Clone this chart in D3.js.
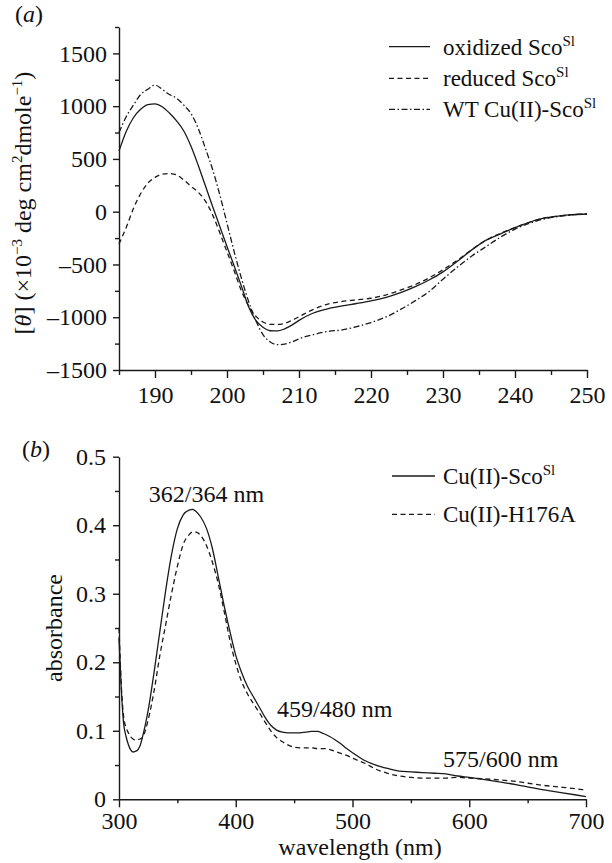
<!DOCTYPE html>
<html><head><meta charset="utf-8">
<script src="https://cdn.jsdelivr.net/npm/d3@7"></script>
<style>
html,body{margin:0;padding:0;background:#fff;}
svg text{font-family:"Liberation Serif","Times New Roman",serif;fill:#111;}
</style></head>
<body>
<svg id="c" width="612" height="863"></svg>
<script>
// ---------- Panel (a): CD spectra ----------
const wlA = [185,186,187,188,189,190,191,192,193,194,195,196,197,198,199,200,201,202,203,204,205,206,207,208,209,210,212,214,216,218,220,222,224,226,228,230,232,234,236,238,240,242,244,246,248,250];
const oxidized = [575,760,890,970,1015,1022,995,935,860,765,620,440,245,50,-140,-330,-515,-705,-900,-1030,-1095,-1128,-1130,-1110,-1075,-1030,-960,-920,-893,-870,-845,-815,-770,-715,-650,-570,-470,-362,-270,-210,-150,-100,-62,-42,-28,-22];
const reduced = [-305,-150,30,170,270,325,355,362,348,300,240,185,100,-30,-200,-380,-560,-750,-890,-990,-1045,-1068,-1068,-1058,-1030,-995,-925,-875,-850,-835,-820,-790,-745,-695,-630,-550,-460,-360,-270,-205,-150,-100,-62,-42,-28,-22];
const wtCu = [750,900,1010,1110,1160,1200,1160,1110,1075,1010,930,790,600,400,160,-110,-380,-630,-850,-1030,-1165,-1235,-1260,-1255,-1235,-1205,-1165,-1135,-1120,-1090,-1050,-1000,-930,-850,-760,-640,-525,-420,-330,-240,-165,-110,-70,-45,-30,-22];
const xTicksA = [190,200,210,220,230,240,250];
const xMinorA = [185,195,205,215,225,235,245];
const yTicksA = [-1500,-1000,-500,0,500,1000,1500];
const yMinorA = [-1250,-750,-250,250,750,1250,1750];

// ---------- Panel (b): absorbance ----------
const wlB = [300,302,304,306,308,310,312,314,316,318,320,325,330,335,340,345,350,355,360,363,366,370,375,380,385,390,395,400,405,410,415,420,425,430,435,440,445,450,455,460,465,470,475,480,485,490,495,500,510,520,530,540,550,560,570,580,590,600,620,640,660,680,700];
const cuSco = [0.235,0.16,0.11,0.092,0.08,0.072,0.069,0.07,0.072,0.078,0.09,0.13,0.185,0.245,0.305,0.357,0.395,0.415,0.422,0.423,0.42,0.412,0.395,0.366,0.325,0.283,0.245,0.21,0.185,0.165,0.15,0.135,0.12,0.108,0.101,0.098,0.097,0.097,0.097,0.098,0.099,0.099,0.096,0.092,0.087,0.081,0.074,0.068,0.057,0.05,0.045,0.041,0.04,0.039,0.038,0.037,0.034,0.032,0.027,0.0215,0.015,0.0095,0.004];
const cuH176A = [0.25,0.165,0.12,0.105,0.097,0.091,0.088,0.0865,0.087,0.088,0.09,0.116,0.158,0.21,0.255,0.3,0.34,0.372,0.386,0.39,0.39,0.385,0.37,0.346,0.315,0.275,0.232,0.198,0.172,0.154,0.14,0.127,0.113,0.1,0.09,0.084,0.079,0.076,0.075,0.075,0.075,0.074,0.074,0.073,0.07,0.067,0.064,0.06,0.053,0.044,0.038,0.034,0.032,0.031,0.031,0.031,0.032,0.031,0.029,0.026,0.021,0.0175,0.0136];
const xTicksB = [300,400,500,600,700];
const xMinorB = [350,450,550,650];
const yTicksB = [0,0.1,0.2,0.3,0.4,0.5];
const yMinorB = [0.05,0.15,0.25,0.35,0.45];
const peakLabels = ["362/364 nm","459/480 nm","575/600 nm"];

const svg = d3.select("#c");
const INK = "#1a1a1a";
const FS = 24;
const FONT = "'Liberation Serif','Times New Roman',serif";

function styleAxis(g){
  g.attr("font-family",null).attr("font-size",null);
  g.selectAll("path,line").attr("stroke",INK).attr("stroke-width",1.4);
  g.selectAll("text").attr("fill","#111").style("font-size",FS+"px").style("font-family",FONT);
}

// ===== Panel a =====
const xA = d3.scaleLinear().domain([185,250]).range([119,587]);
const yA = d3.scaleLinear().domain([-1500,1750]).range([370,27]);
const fmtA = d => d < 0 ? "\u2013" + Math.abs(d) : String(d);

svg.append("g").attr("transform","translate(0,370)")
  .call(d3.axisBottom(xA).tickValues(xMinorA).tickSize(5).tickSizeOuter(0).tickFormat(""))
  .call(g=>g.select(".domain").remove()).call(styleAxis);
svg.append("g").attr("transform","translate(0,370)")
  .call(d3.axisBottom(xA).tickValues(xTicksA).tickSize(8).tickPadding(8).tickSizeOuter(0).tickFormat(d3.format("d")))
  .call(styleAxis);
svg.append("g").attr("transform","translate(119,0)")
  .call(d3.axisLeft(yA).tickValues(yMinorA).tickSize(4).tickSizeOuter(0).tickFormat(""))
  .call(g=>g.select(".domain").remove()).call(styleAxis);
svg.append("g").attr("transform","translate(119,0)")
  .call(d3.axisLeft(yA).tickValues(yTicksA).tickSize(6).tickPadding(6).tickSizeOuter(0).tickFormat(fmtA))
  .call(styleAxis);

const lineA = ys => d3.line().x((d,i)=>xA(wlA[i])).y(d=>yA(d)).curve(d3.curveMonotoneX)(ys);
const seriesA = [
  {v:oxidized, dash:null, name:"oxidized Sco"},
  {v:reduced, dash:"5,3.5", name:"reduced Sco"},
  {v:wtCu, dash:"6,2.5,1.5,2.5", name:"WT Cu(II)-Sco"}
];
seriesA.forEach(s=>{
  svg.append("path").attr("d",lineA(s.v)).attr("fill","none").attr("stroke",INK)
    .attr("stroke-width",1.3).attr("stroke-dasharray",s.dash);
});
// legend a
const legA = [46.7,78.3,109.3];
seriesA.forEach((s,i)=>{
  svg.append("line").attr("x1",389).attr("x2",430).attr("y1",legA[i]).attr("y2",legA[i])
    .attr("stroke",INK).attr("stroke-width",1.3).attr("stroke-dasharray",s.dash);
  const t = svg.append("text").attr("x",443).attr("y",legA[i]+8).style("font-size","23px").style("font-family",FONT);
  t.append("tspan").text(s.name);
  t.append("tspan").attr("dy",-9).style("font-size","15px").text("Sl");
});
// y label a
{
  const t = svg.append("text").attr("transform","translate(31,203) rotate(-90)")
    .attr("text-anchor","middle").style("font-size",FS+"px").style("font-family",FONT);
  t.append("tspan").text("[");
  t.append("tspan").style("font-style","italic").text("\u03B8");
  t.append("tspan").text("] (\u00D710");
  t.append("tspan").attr("dy",-9).style("font-size","15px").text("\u22123");
  t.append("tspan").attr("dy",9).text(" deg cm");
  t.append("tspan").attr("dy",-9).style("font-size","15px").text("2");
  t.append("tspan").attr("dy",9).text("dmole");
  t.append("tspan").attr("dy",-9).style("font-size","15px").text("\u22121");
  t.append("tspan").attr("dy",9).text(")");
}
{
  const t = svg.append("text").attr("x",15).attr("y",22).style("font-size",FS+"px").style("font-family",FONT);
  t.append("tspan").text("(");
  t.append("tspan").style("font-style","italic").text("a");
  t.append("tspan").text(")");
}

// ===== Panel b =====
const xB = d3.scaleLinear().domain([300,700]).range([119,586]);
const yB = d3.scaleLinear().domain([0,0.5]).range([799.3,456.7]);
const fmtB = d => d === 0 ? "0" : d.toFixed(1);

svg.append("g").attr("transform","translate(0,799.3)")
  .call(d3.axisBottom(xB).tickValues(xMinorB).tickSize(4).tickSizeOuter(0).tickFormat(""))
  .call(g=>g.select(".domain").remove()).call(styleAxis);
svg.append("g").attr("transform","translate(0,799.3)")
  .call(d3.axisBottom(xB).tickValues(xTicksB).tickSize(8).tickPadding(5).tickSizeOuter(0).tickFormat(d3.format("d")))
  .call(styleAxis);
svg.append("g").attr("transform","translate(119,0)")
  .call(d3.axisLeft(yB).tickValues(yMinorB).tickSize(4).tickSizeOuter(0).tickFormat(""))
  .call(g=>g.select(".domain").remove()).call(styleAxis);
svg.append("g").attr("transform","translate(119,0)")
  .call(d3.axisLeft(yB).tickValues(yTicksB).tickSize(6).tickPadding(7).tickSizeOuter(0).tickFormat(fmtB))
  .call(styleAxis);

const lineB = ys => d3.line().x((d,i)=>xB(wlB[i])).y(d=>yB(d)).curve(d3.curveMonotoneX)(ys);
const seriesB = [
  {v:cuSco, dash:null, name:"Cu(II)-Sco", sup:"Sl"},
  {v:cuH176A, dash:"5,3.5", name:"Cu(II)-H176A", sup:null}
];
seriesB.forEach(s=>{
  svg.append("path").attr("d",lineB(s.v)).attr("fill","none").attr("stroke",INK)
    .attr("stroke-width",1.3).attr("stroke-dasharray",s.dash);
});
const legB = [476,514.3];
seriesB.forEach((s,i)=>{
  svg.append("line").attr("x1",392).attr("x2",435).attr("y1",legB[i]).attr("y2",legB[i])
    .attr("stroke",INK).attr("stroke-width",1.3).attr("stroke-dasharray",s.dash);
  const t = svg.append("text").attr("x",443).attr("y",legB[i]+8).style("font-size","23px").style("font-family",FONT);
  t.append("tspan").text(s.name);
  if (s.sup) t.append("tspan").attr("dy",-9).style("font-size","15px").text(s.sup);
});
svg.append("text").attr("x",206.5).attr("y",501.7).attr("text-anchor","middle").style("font-size",FS+"px").style("font-family",FONT).text(peakLabels[0]);
svg.append("text").attr("x",277).attr("y",717).style("font-size",FS+"px").style("font-family",FONT).text(peakLabels[1]);
svg.append("text").attr("x",443).attr("y",767).style("font-size",FS+"px").style("font-family",FONT).text(peakLabels[2]);

svg.append("text").attr("transform","translate(62,628) rotate(-90)").attr("text-anchor","middle")
  .style("font-size",FS+"px").style("font-family",FONT).text("absorbance");
svg.append("text").attr("x",360).attr("y",855).attr("text-anchor","middle")
  .style("font-size",FS+"px").style("font-family",FONT).text("wavelength (nm)");
{
  const t = svg.append("text").attr("x",22).attr("y",457).style("font-size",FS+"px").style("font-family",FONT);
  t.append("tspan").text("(");
  t.append("tspan").style("font-style","italic").text("b");
  t.append("tspan").text(")");
}
</script>
</body></html>
